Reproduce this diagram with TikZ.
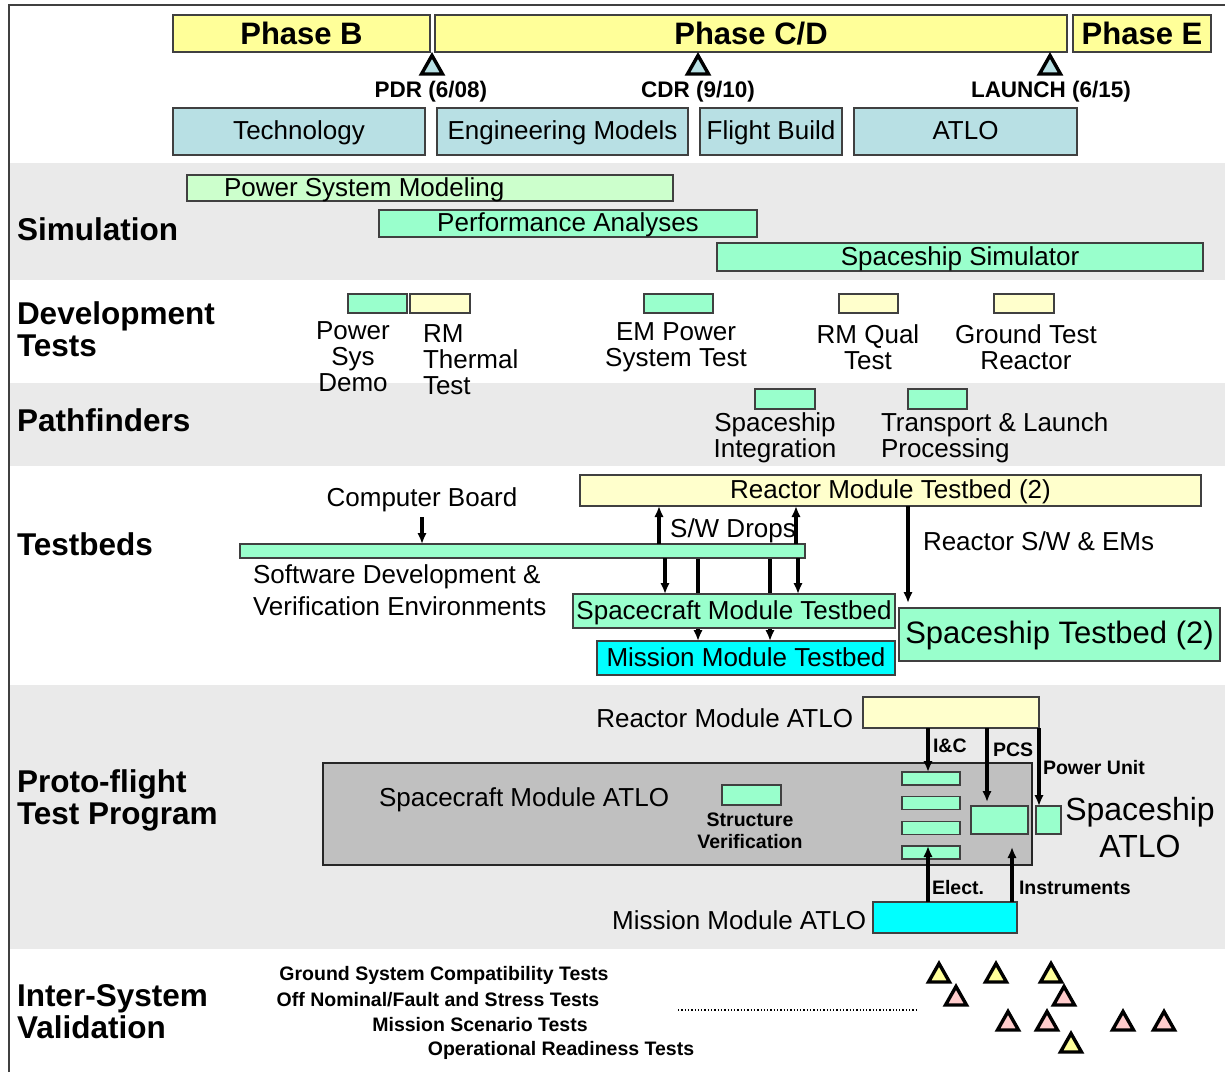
\documentclass[tikz,border=0pt]{standalone}
\usepackage{fontspec}
\setmainfont{Liberation Sans}
\usetikzlibrary{arrows.meta}
\definecolor{phy}{HTML}{FFFF99}
\definecolor{phb}{HTML}{B8E0E4}
\definecolor{lgreen}{HTML}{CCFFCC}
\definecolor{mint}{HTML}{99FFCC}
\definecolor{lyel}{HTML}{FFFFCC}
\definecolor{cyn}{HTML}{00FFFF}
\definecolor{band}{HTML}{EAEAEA}
\definecolor{bigg}{HTML}{C0C0C0}
\definecolor{pnk}{HTML}{FFCCCC}
\definecolor{bord}{HTML}{404040}
\pgfdeclarelayer{back}
\pgfdeclarelayer{mid}
\pgfsetlayers{back,mid,main}
\newcommand\fsz[2]{\fontsize{#1}{#2}\selectfont}
\newcommand\trimark[3]{\draw[line width=3.4pt,fill=#3,line join=miter] (#1-10.5,#2+9) -- (#1,#2-9.5) -- (#1+10.5,#2+9) -- cycle;}
\begin{document}
\begin{tikzpicture}[x=1pt,y=-1pt,
  bx/.style={draw=bord,line width=1.4pt,inner sep=0pt,outer sep=0pt},
  txt/.style={inner sep=0pt,outer sep=0pt},
  sect/.style={txt,anchor=west,align=left,font=\fsz{31.5}{32}\bfseries},
  mile/.style={txt,font=\fsz{22.5}{22}\bfseries},
  reg/.style={font=\fsz{26}{26}},
  bt/.style={text height=19pt,text depth=3pt},
  sml/.style={font=\fsz{19.5}{22}\bfseries},
  arr/.style={line width=3.2pt,-{Latex[length=11pt,width=9.5pt]}},
]
\useasboundingbox (0,0) rectangle (1225,1072);
\begin{pgfonlayer}{back}
\fill[white] (0,0) rectangle (1225,1072);
\fill[band] (10,163) rectangle (1225,280);
\fill[band] (10,383) rectangle (1225,466);
\fill[band] (10,685) rectangle (1225,949);
\draw[bord,line width=1.6pt] (9,1072) -- (9,5) -- (1225,5);
\end{pgfonlayer}

% header
\node[bx,fill=phy,minimum width=257pt,minimum height=37pt,font=\fsz{31}{31}\bfseries] (phB) at (301.5,33.5) {Phase B};
\node[bx,fill=phy,minimum width=632pt,minimum height=37pt,font=\fsz{31}{31}\bfseries] (phCD) at (751,33.5) {Phase C/D};
\node[bx,fill=phy,minimum width=138pt,minimum height=37pt,font=\fsz{31}{31}\bfseries] (phE) at (1142,33.5) {Phase E};
\trimark{432}{65}{phb}
\trimark{698}{65}{phb}
\trimark{1050}{65}{phb}
\node[mile] (pdr) at (431,92) {PDR (6/08)};
\node[mile] (cdr) at (698,92) {CDR (9/10)};
\node[mile] (lau) at (1051,92) {LAUNCH (6/15)};
\node[bx,bt,fill=phb,minimum width=252pt,minimum height=47pt,reg] (tech) at (299,131.5) {Technology};
\node[bx,bt,fill=phb,minimum width=251pt,minimum height=47pt,reg] (eng) at (562.5,131.5) {Engineering Models};
\node[bx,bt,fill=phb,minimum width=142pt,minimum height=47pt,reg] (fb) at (771,131.5) {Flight Build};
\node[bx,bt,fill=phb,minimum width=223pt,minimum height=47pt,reg] (atlo) at (965.5,131.5) {ATLO};

% simulation
\node[sect] (simlbl) at (17,229) {Simulation};
\node[bx,fill=lgreen,minimum width=486pt,minimum height=26pt] (psm) at (430,188) {};
\node[txt,bt,reg,anchor=west] (psmt) at (224,188) {Power System Modeling};
\node[bx,bt,fill=mint,minimum width=378pt,minimum height=27pt,reg] (perf) at (568,223.5) {Performance Analyses};
\node[bx,bt,fill=mint,minimum width=486pt,minimum height=28pt,reg] (ssim) at (960,257) {Spaceship Simulator};

% development tests
\node[sect] (devlbl) at (17,329.5) {Development\\Tests};
\node[bx,fill=mint,minimum width=59pt,minimum height=19pt] (psd) at (377.5,303.5) {};
\node[bx,fill=lyel,minimum width=60pt,minimum height=19pt] (rmt) at (440,303.5) {};
\node[bx,fill=mint,minimum width=69pt,minimum height=19pt] (emp) at (678.5,303.5) {};
\node[bx,fill=lyel,minimum width=59pt,minimum height=19pt] (rmq) at (868.5,303.5) {};
\node[bx,fill=lyel,minimum width=60pt,minimum height=19pt] (gtr) at (1024,303.5) {};
\node[txt,reg,align=center] (psdt) at (353,356.5) {Power\\Sys\\Demo};
\node[txt,reg,align=left,anchor=west] (rmtt) at (423,359.5) {RM\\Thermal\\Test};
\node[txt,reg,align=center] (empt) at (676,347) {EM Power\\System Test};
\node[txt,reg,align=center] (rmqt) at (868,347) {RM Qual\\Test};
\node[txt,reg,align=center] (gtrt) at (1026,347) {Ground Test\\Reactor};

% pathfinders
\node[sect] (pathlbl) at (17,420) {Pathfinders};
\node[bx,fill=mint,minimum width=60pt,minimum height=20pt] (spi) at (785,399) {};
\node[bx,fill=mint,minimum width=59pt,minimum height=20pt] (tlp) at (937.5,399) {};
\node[txt,reg,align=center] (spit) at (775,438) {Spaceship\\Integration};
\node[txt,reg,align=left,anchor=west] (tlpt) at (881,438) {Transport \& Launch\\Processing};

% testbeds
\node[sect] (tblbl) at (17,544) {Testbeds};
\node[bx,bt,fill=lyel,minimum width=621pt,minimum height=31pt,reg] (rmtb) at (890.5,490.5) {Reactor Module Testbed (2)};
\node[bx,fill=mint,minimum width=565pt,minimum height=14pt] (sw) at (522.5,551) {};
\node[txt,reg] (cb) at (422,500) {Computer Board};
\node[txt,reg,align=left,anchor=west] (swt) at (253,590) {Software Development \&\\[6pt]Verification Environments};
\node[bx,bt,fill=mint,minimum width=322pt,minimum height=34pt,reg] (smt) at (734,611) {Spacecraft Module Testbed};
\node[bx,bt,fill=cyn,minimum width=298pt,minimum height=34pt,reg] (mmt) at (746,658) {Mission Module Testbed};
\node[bx,fill=mint,minimum width=321pt,minimum height=53pt,font=\fsz{31}{31},text height=22pt,text depth=5pt] (stb) at (1059.5,634.5) {Spaceship Testbed (2)};
\node[txt,reg] (swd) at (733,531) {S/W Drops};
\node[txt,reg,anchor=west] (rswt) at (923,541) {Reactor S/W \& EMs};
\coordinate (u1) at (659,0);
\coordinate (u2) at (796,0);
\coordinate (d1) at (665,0);
\coordinate (d2) at (798,0);
\coordinate (l1) at (698,0);
\coordinate (l2) at (770,0);
\coordinate (r1) at (908,0);
\draw[arr,shorten <=5pt] (cb.south) -- (cb.south |- sw.north);
\draw[arr] (sw.north -| u1) -- (rmtb.south -| u1);
\draw[arr] (sw.north -| u2) -- (rmtb.south -| u2);
\draw[arr] (sw.south -| d1) -- (smt.north -| d1);
\draw[arr] (sw.south -| d2) -- (smt.north -| d2);
\begin{pgfonlayer}{mid}
\draw[arr] (sw.south -| l1) -- (mmt.north -| l1);
\draw[arr] (sw.south -| l2) -- (mmt.north -| l2);
\end{pgfonlayer}
\draw[arr,shorten >=5pt] (rmtb.south -| r1) -- (stb.north -| r1);

% proto-flight
\node[sect] (pflbl) at (17,800) {Proto-flight\\Test Program};
\node[txt,reg,anchor=east] (rmat) at (853,718) {Reactor Module ATLO};
\node[bx,fill=lyel,minimum width=176pt,minimum height=31pt] (rma) at (951,712.5) {};
\node[bx,fill=bigg,line width=2.6pt,draw=black!85,minimum width=709pt,minimum height=102pt] (sma) at (677.5,814) {};
\node[txt,reg] (smat) at (524,800) {Spacecraft Module ATLO};
\node[bx,fill=mint,minimum width=59pt,minimum height=20pt] (sv) at (751.5,795) {};
\node[txt,sml,align=center] (svt) at (750,831) {Structure\\Verification};
\node[bx,fill=mint,minimum width=58pt,minimum height=13pt] (b1) at (931,778.5) {};
\node[bx,fill=mint,minimum width=58pt,minimum height=13pt] (b2) at (931,803) {};
\node[bx,fill=mint,minimum width=58pt,minimum height=13pt] (b3) at (931,828) {};
\node[bx,fill=mint,minimum width=58pt,minimum height=13pt] (b4) at (931,852.5) {};
\node[bx,fill=mint,minimum width=57pt,minimum height=28pt] (pcs) at (999.5,820) {};
\node[bx,fill=mint,minimum width=25pt,minimum height=28pt] (pu) at (1048.5,820) {};
\node[txt,font=\fsz{32}{37},align=center] (sat) at (1140,827.5) {Spaceship\\ATLO};
\node[bx,fill=cyn,minimum width=144pt,minimum height=31pt] (mma) at (945,917.5) {};
\node[txt,reg,anchor=east] (mmat) at (866,920) {Mission Module ATLO};
\coordinate (p1) at (928,0);
\coordinate (p2) at (987,0);
\coordinate (p3) at (1039,0);
\coordinate (p4) at (1012,0);
\coordinate (insend) at (1012,847);
\draw[arr] (rma.south -| p1) -- (b1.north -| p1);
\draw[arr,shorten >=4pt] (rma.south -| p2) -- (pcs.north -| p2);
\draw[arr] (rma.south -| p3) -- (pu.north -| p3);
\draw[arr] (mma.north -| p1) -- (b4.north -| p1);
\draw[arr] (mma.north -| p4) -- (insend);
\node[txt,sml,anchor=west] (ict) at (933,746) {I\&C};
\node[txt,sml,anchor=west] (pcst) at (993,750) {PCS};
\node[txt,sml,anchor=west] (put) at (1043,768) {Power Unit};
\node[txt,sml,anchor=west] (elt) at (932,888) {Elect.};
\node[txt,sml,anchor=west] (inst) at (1019,888) {Instruments};

% inter-system
\node[sect] (islbl) at (17,1012) {Inter-System\\Validation};
\node[txt,sml] (gsc) at (444,975) {Ground System Compatibility Tests};
\node[txt,sml] (onf) at (438,1000) {Off Nominal/Fault and Stress Tests};
\node[txt,sml] (mst) at (480,1025) {Mission Scenario Tests};
\node[txt,sml] (ort) at (561,1050) {Operational Readiness Tests};
\coordinate (dl1) at (678,1010);
\coordinate (dl2) at (917,1010);
\draw[dotted,line width=1.3pt] (dl1) -- (dl2);
\trimark{939}{973}{phy}
\trimark{956}{996}{pnk}
\trimark{996}{973}{phy}
\trimark{1051}{973}{phy}
\trimark{1064}{996}{pnk}
\trimark{1008}{1021}{pnk}
\trimark{1047}{1021}{pnk}
\trimark{1071}{1043}{phy}
\trimark{1123}{1021}{pnk}
\trimark{1164}{1021}{pnk}
\end{tikzpicture}
\end{document}
